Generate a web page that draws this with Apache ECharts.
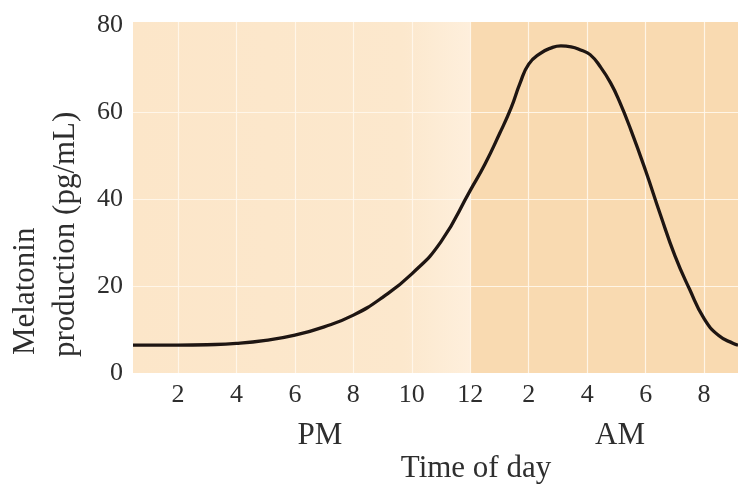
<!DOCTYPE html>
<html>
<head>
<meta charset="utf-8">
<script src="https://cdn.jsdelivr.net/npm/echarts@6/dist/echarts.min.js"></script>
<style>html,body{margin:0;padding:0;background:#fff}#c{width:738px;height:490px}</style>
</head>
<body>
<div id="c"></div>
<script>
// Hours since noon (0 = 12 PM, 12 = midnight)
var hours = [0.46, 1, 2, 3, 4, 5, 6, 7, 8, 9, 10, 11, 12, 12.5, 13, 13.4, 13.7, 14, 14.4, 14.75, 15.1, 15.45, 15.8, 16.1, 16.45, 16.8, 17.1, 17.5, 18, 18.5, 19, 19.5, 20, 20.5, 21, 21.16];
var melatonin = [6.4, 6.4, 6.4, 6.5, 6.8, 7.5, 8.7, 10.6, 13.3, 17.4, 22.8, 30.2, 42, 48, 55, 61, 66.6, 71, 73.5, 74.7, 75.2, 75, 74.2, 73.2, 70.4, 66.7, 62.5, 55.8, 46.5, 36.5, 27, 19.3, 12.5, 8.6, 6.8, 6.4];
var xTicks = [2, 4, 6, 8, 10, 12, 14, 16, 18, 20];
var yTicks = [20, 40, 60];
var yLabels = [0, 20, 40, 60, 80];
var xMin = 0.46, xMax = 21.16, midnight = 12;

var chart = echarts.init(document.getElementById('c'));
var serif = '"Liberation Serif", "DejaVu Serif", serif';
var ink = '#2e2e2e';
var pts = hours.map(function (h, i) { return [h, melatonin[i]]; });
var gridLines = xTicks.map(function (v) { return { xAxis: v }; })
  .concat(yTicks.map(function (v) { return { yAxis: v }; }));

chart.setOption({
  animation: false,
  backgroundColor: '#ffffff',
  grid: { left: 133, right: 0, top: 22, bottom: 117 },
  xAxis: {
    type: 'value', min: xMin, max: xMax,
    axisLine: { show: false }, axisTick: { show: false }, splitLine: { show: false },
    axisLabel: {
      customValues: xTicks,
      formatter: function (v) { return String(v <= 12 ? v : v - 12); },
      fontFamily: serif, fontSize: 26, color: ink, margin: 9
    }
  },
  yAxis: {
    type: 'value', min: 0, max: 80.7,
    axisLine: { show: false }, axisTick: { show: false }, splitLine: { show: false },
    axisLabel: {
      customValues: yLabels,
      fontFamily: serif, fontSize: 26, color: ink, margin: 10
    }
  },
  series: [{
    type: 'line', data: pts, smooth: 0.5, showSymbol: false,
    lineStyle: { color: '#1e1512', width: 3.3 },
    z: 5,
    markArea: {
      silent: true,
      data: [
        [{ xAxis: xMin, itemStyle: { color: {
          type: 'linear', x: 0, y: 0, x2: 1, y2: 0,
          colorStops: [{ offset: 0, color: '#fce6c9' }, { offset: 0.8, color: '#fce8cd' }, { offset: 1, color: '#feefdc' }]
        } } }, { xAxis: midnight }],
        [{ xAxis: midnight, itemStyle: { color: '#f9dab1' } }, { xAxis: xMax }]
      ]
    },
    markLine: {
      silent: true, symbol: 'none', animation: false,
      label: { show: false },
      lineStyle: { color: '#fff7ec', width: 1.2, type: 'solid', opacity: 0.9 },
      data: gridLines
    }
  }],
  graphic: [
    { type: 'text', x: 26, y: 355, rotation: Math.PI / 2,
      style: { text: 'Melatonin', font: '31px ' + serif, fill: ink, textAlign: 'left', textVerticalAlign: 'middle' } },
    { type: 'text', x: 66, y: 357, rotation: Math.PI / 2,
      style: { text: 'production (pg/mL)', font: '31px ' + serif, fill: ink, textAlign: 'left', textVerticalAlign: 'middle' } },
    { type: 'text', x: 320, y: 436,
      style: { text: 'PM', font: '31px ' + serif, fill: ink, textAlign: 'center', textVerticalAlign: 'middle' } },
    { type: 'text', x: 620, y: 436,
      style: { text: 'AM', font: '31px ' + serif, fill: ink, textAlign: 'center', textVerticalAlign: 'middle' } },
    { type: 'text', x: 476, y: 469,
      style: { text: 'Time of day', font: '31px ' + serif, fill: ink, textAlign: 'center', textVerticalAlign: 'middle' } }
  ]
});
</script>
</body>
</html>
